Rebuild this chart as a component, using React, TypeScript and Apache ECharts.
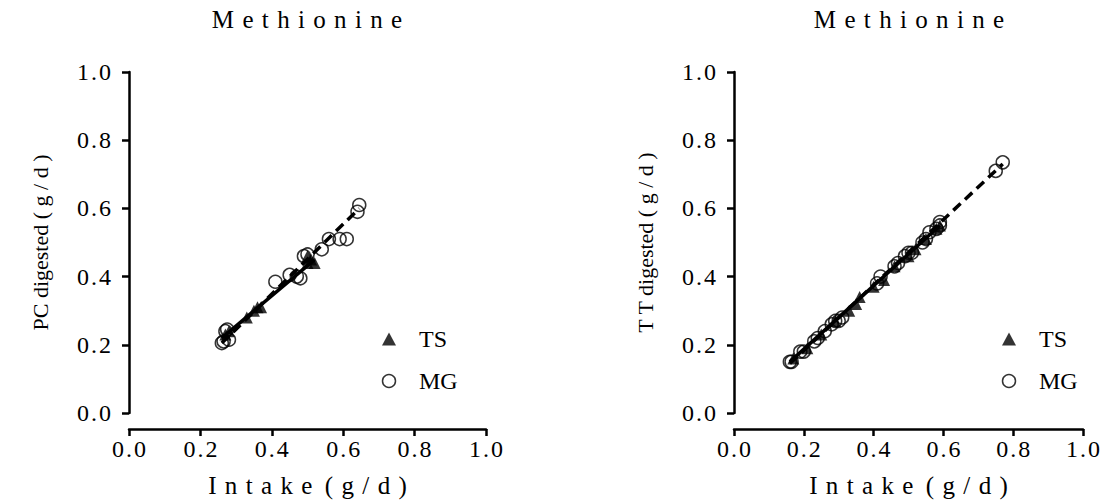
import React, { useEffect, useRef } from "react";
import * as echarts from "echarts";

const titleText = "Methionine";
const xAxisWord = "Intake";
const xAxisUnit = "(g/d)";
const yTitleLeft = "PC digested ( g / d )";
const yTitleRight = "T T digested ( g / d )";

// Left panel (PC)
const pcTS: [number, number][] = [
  [0.27, 0.23], [0.28, 0.24], [0.33, 0.28], [0.35, 0.3], [0.36, 0.31],
  [0.37, 0.31], [0.5, 0.44], [0.51, 0.45], [0.52, 0.44], [0.5, 0.46],
];
const pcMG: [number, number][] = [
  [0.26, 0.205], [0.265, 0.21], [0.27, 0.24], [0.275, 0.245], [0.28, 0.215],
  [0.41, 0.385], [0.45, 0.405], [0.47, 0.4], [0.48, 0.395], [0.49, 0.46],
  [0.5, 0.465], [0.54, 0.48], [0.56, 0.51], [0.59, 0.51], [0.61, 0.51],
  [0.64, 0.59], [0.645, 0.61],
];
const pcTSFit: [number, number][] = [[0.26, 0.22], [0.52, 0.45]];
const pcMGFit: [number, number][] = [[0.26, 0.205], [0.645, 0.6]];

// Right panel (TT)
const ttTS: [number, number][] = [
  [0.17, 0.16], [0.21, 0.19], [0.25, 0.23], [0.29, 0.27], [0.33, 0.3],
  [0.35, 0.32], [0.36, 0.34], [0.4, 0.37], [0.43, 0.39], [0.46, 0.43],
  [0.5, 0.46], [0.52, 0.48], [0.55, 0.51], [0.58, 0.54], [0.59, 0.55],
];
const ttMG: [number, number][] = [
  [0.16, 0.15], [0.165, 0.15], [0.19, 0.18], [0.2, 0.18], [0.23, 0.21],
  [0.24, 0.22], [0.26, 0.24], [0.28, 0.26], [0.29, 0.27], [0.3, 0.27],
  [0.31, 0.28], [0.41, 0.38], [0.42, 0.4], [0.46, 0.43], [0.47, 0.44],
  [0.49, 0.46], [0.5, 0.47], [0.51, 0.47], [0.54, 0.5], [0.55, 0.51],
  [0.56, 0.53], [0.58, 0.54], [0.59, 0.55], [0.59, 0.56], [0.75, 0.71],
  [0.77, 0.735],
];
const ttTSFit: [number, number][] = [[0.16, 0.15], [0.59, 0.55]];
const ttMGFit: [number, number][] = [[0.16, 0.145], [0.77, 0.73]];

const FONT = "Liberation Serif";
const HAIR = "\u200A";
const spaced = (s: string, sep: string) => s.split("").join(sep);
const xAxisTitle = spaced(xAxisWord, " " + HAIR) + "  " + spaced(xAxisUnit, " " + HAIR);

function axisCommon() {
  return {
    type: "value" as const,
    min: 0,
    max: 1,
    interval: 0.2,
    splitLine: { show: false },
    axisLine: { show: true, onZero: false, lineStyle: { color: "#000", width: 2.5 } },
    axisTick: { show: true, inside: false, length: 7, lineStyle: { color: "#000", width: 2.5 } },
    axisLabel: {
      color: "#000",
      fontFamily: FONT,
      fontSize: 24,
      formatter: (v: number) => spaced(v.toFixed(1), HAIR),
    },
  };
}

export default function App() {
  const ref = useRef<HTMLDivElement>(null);
  useEffect(() => {
    if (!ref.current) return;
    const chart = echarts.init(ref.current, undefined, { renderer: "svg" });
    const grids = [
      { left: 129, right: 1103 - 486, top: 72, bottom: 504 - 413 },
      { left: 734, right: 1103 - 1084, top: 72, bottom: 504 - 413 },
    ];
    const xAxes = [0, 1].map((i) => ({
      ...axisCommon(),
      gridIndex: i,
      offset: 16,
      name: xAxisTitle,
      nameLocation: "middle",
      nameGap: 44,
      nameTextStyle: { color: "#000", fontFamily: FONT, fontSize: 25 },
      axisLabel: { ...axisCommon().axisLabel, margin: 8 },
    }));
    const yAxes = [0, 1].map((i) => ({
      ...axisCommon(),
      gridIndex: i,
      name: i === 0 ? yTitleLeft : yTitleRight,
      nameLocation: "middle",
      nameGap: 78,
      nameTextStyle: { color: "#000", fontFamily: FONT, fontSize: 22 },
      axisLabel: { ...axisCommon().axisLabel, margin: 18 },
    }));
    const tsStyle = { color: "#000" };
    const mgStyle = { color: "none", borderColor: "#000", borderWidth: 1.5 };
    const scatter = (name: string, data: [number, number][], i: number, isTS: boolean) => ({
      type: "scatter",
      name,
      xAxisIndex: i,
      yAxisIndex: i,
      data,
      symbol: isTS ? "triangle" : "circle",
      symbolSize: isTS ? 12 : 13,
      itemStyle: isTS ? tsStyle : mgStyle,
      z: 2,
    });
    const fit = (name: string, data: [number, number][], i: number, dashed: boolean) => ({
      type: "line",
      name,
      xAxisIndex: i,
      yAxisIndex: i,
      data,
      showSymbol: false,
      symbol: "none",
      lineStyle: { color: "#000", width: 3.5, type: dashed ? [10, 6] : "solid" },
      z: 3,
      silent: true,
    });
    const legendFor = (left: number) => ({
      left,
      top: 325,
      padding: 0,
      orient: "vertical",
      itemGap: 14,
      itemWidth: 14,
      itemHeight: 13,
      selectedMode: false,
      textStyle: {
        color: "#000",
        fontFamily: FONT,
        fontSize: 24,
        padding: [0, 0, 0, 18],
        lineHeight: 28,
      },
      data: [
        { name: "TS", icon: "triangle", itemStyle: { color: "#000" } },
        {
          name: "MG",
          icon: "circle",
          itemStyle: { color: "none", borderColor: "#000", borderWidth: 1.5 },
        },
      ],
    });
    const titleStyle = { color: "#000", fontFamily: FONT, fontSize: 25, fontWeight: "normal" };
    const title = spaced(titleText, " " + HAIR);
    chart.setOption({
      animation: false,
      backgroundColor: "#fff",
      title: [
        { text: title, left: 307, top: 7, padding: 0, textAlign: "center", textStyle: titleStyle },
        { text: title, left: 909, top: 7, padding: 0, textAlign: "center", textStyle: titleStyle },
      ],
      legend: [legendFor(380), legendFor(1000)],
      grid: grids,
      xAxis: xAxes,
      yAxis: yAxes,
      series: [
        scatter("TS", pcTS, 0, true),
        scatter("MG", pcMG, 0, false),
        fit("TS fit PC", pcTSFit, 0, false),
        fit("MG fit PC", pcMGFit, 0, true),
        scatter("TS", ttTS, 1, true),
        scatter("MG", ttMG, 1, false),
        fit("TS fit TT", ttTSFit, 1, false),
        fit("MG fit TT", ttMGFit, 1, true),
      ],
    });
    return () => chart.dispose();
  }, []);
  return (
    <div
      ref={ref}
      style={{ position: "fixed", left: 0, top: 0, width: 1103, height: 504, background: "#fff" }}
    />
  );
}
